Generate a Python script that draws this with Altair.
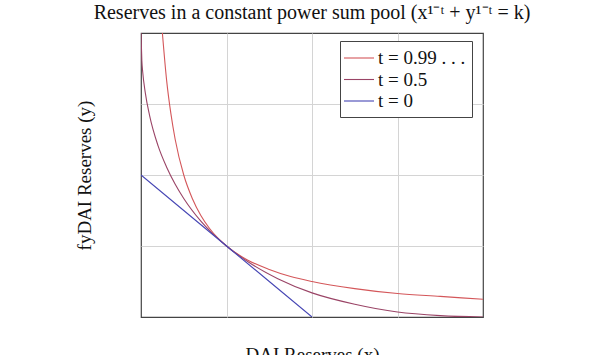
import altair as alt
import pandas as pd

# Curve t = 0.99...
x99 = [0.25, 0.3, 0.35, 0.4, 0.5, 0.6, 0.7, 0.8, 0.9, 1.0, 1.25, 1.5, 1.75, 2.0, 2.5, 3.0, 3.5, 4.0]
y99 = [4.0, 3.33, 2.86, 2.5, 2.0, 1.67, 1.43, 1.25, 1.11, 1.0, 0.8, 0.67, 0.57, 0.5, 0.4, 0.33, 0.29, 0.25]
# Curve t = 0.5
x50 = [0.0, 0.01, 0.02, 0.05, 0.1, 0.2, 0.3, 0.4, 0.5, 0.7, 1.0, 1.3, 1.6, 2.0, 2.5, 3.0, 3.5, 4.0]
y50 = [4.0, 3.61, 3.45, 3.16, 2.84, 2.41, 2.11, 1.87, 1.67, 1.35, 1.0, 0.74, 0.54, 0.34, 0.18, 0.07, 0.02, 0.0]
# Curve t = 0
x0 = [0.0, 1.0, 2.0]
y0 = [2.0, 1.0, 0.0]

grid_vals = [1, 2, 3]
labels = ["t = 0.99 . . .", "t = 0.5", "t = 0"]
colors = ["#d4575a", "#9a4466", "#4646b4"]

rows = []
for lab, xs, ys in zip(labels, [x99, x50, x0], [y99, y50, y0]):
    for i, (a, b) in enumerate(zip(xs, ys)):
        rows.append({"series": lab, "x": a, "y": b, "order": i})
df = pd.DataFrame(rows)

FONT = "Liberation Serif"

chart = alt.Chart(df).mark_line(strokeWidth=1.1, interpolate="monotone", clip=True).encode(
    x=alt.X("x:Q", scale=alt.Scale(domain=[0, 4], nice=False, zero=False),
            axis=alt.Axis(title="DAI Reserves (x)", values=grid_vals, labels=False, ticks=False,
                          domain=False, grid=True, gridColor="#d4d4d4", titleFont=FONT,
                          titleFontSize=19, titleFontWeight="normal", titleColor="#111",
                          titleX=171, titleY=43, titleBaseline="alphabetic")),
    y=alt.Y("y:Q", scale=alt.Scale(domain=[0, 4], nice=False, zero=False),
            axis=alt.Axis(title="fyDAI Reserves (y)", values=grid_vals, labels=False, ticks=False,
                          domain=False, grid=True, gridColor="#d4d4d4", titleFont=FONT,
                          titleFontSize=19, titleFontWeight="normal", titleColor="#111",
                          titleX=-57, titleY=142, titleAngle=270, titleAlign="center",
                          titleBaseline="middle")),
    color=alt.Color("series:N", scale=alt.Scale(domain=labels, range=colors),
                    legend=alt.Legend(title=None, orient="none", legendX=199, legendY=8,
                                      symbolType="M-1.3,0H1.7", symbolSize=400, symbolStrokeWidth=1.1,
                                      symbolFillColor="transparent",
                                      labelFont=FONT, labelFontSize=19, labelColor="#111",
                                      strokeColor="#444", fillColor="white", padding=6,
                                      rowPadding=0.5, labelOffset=10)),
    order="order:Q",
).properties(
    width=342, height=284,
    title=alt.TitleParams("Reserves in a constant power sum pool (x¹⁻ᵗ + y¹⁻ᵗ = k)",
                          font=FONT, fontSize=20, fontWeight="normal", color="#111",
                          anchor="middle", offset=10),
    padding={"left": 141, "top": 33, "right": 119, "bottom": 38},
    autosize="none",
).configure(background="white").configure_view(stroke="#444", strokeWidth=1.2)

chart.save("out.html", embed_options={"renderer": "svg", "actions": False})
